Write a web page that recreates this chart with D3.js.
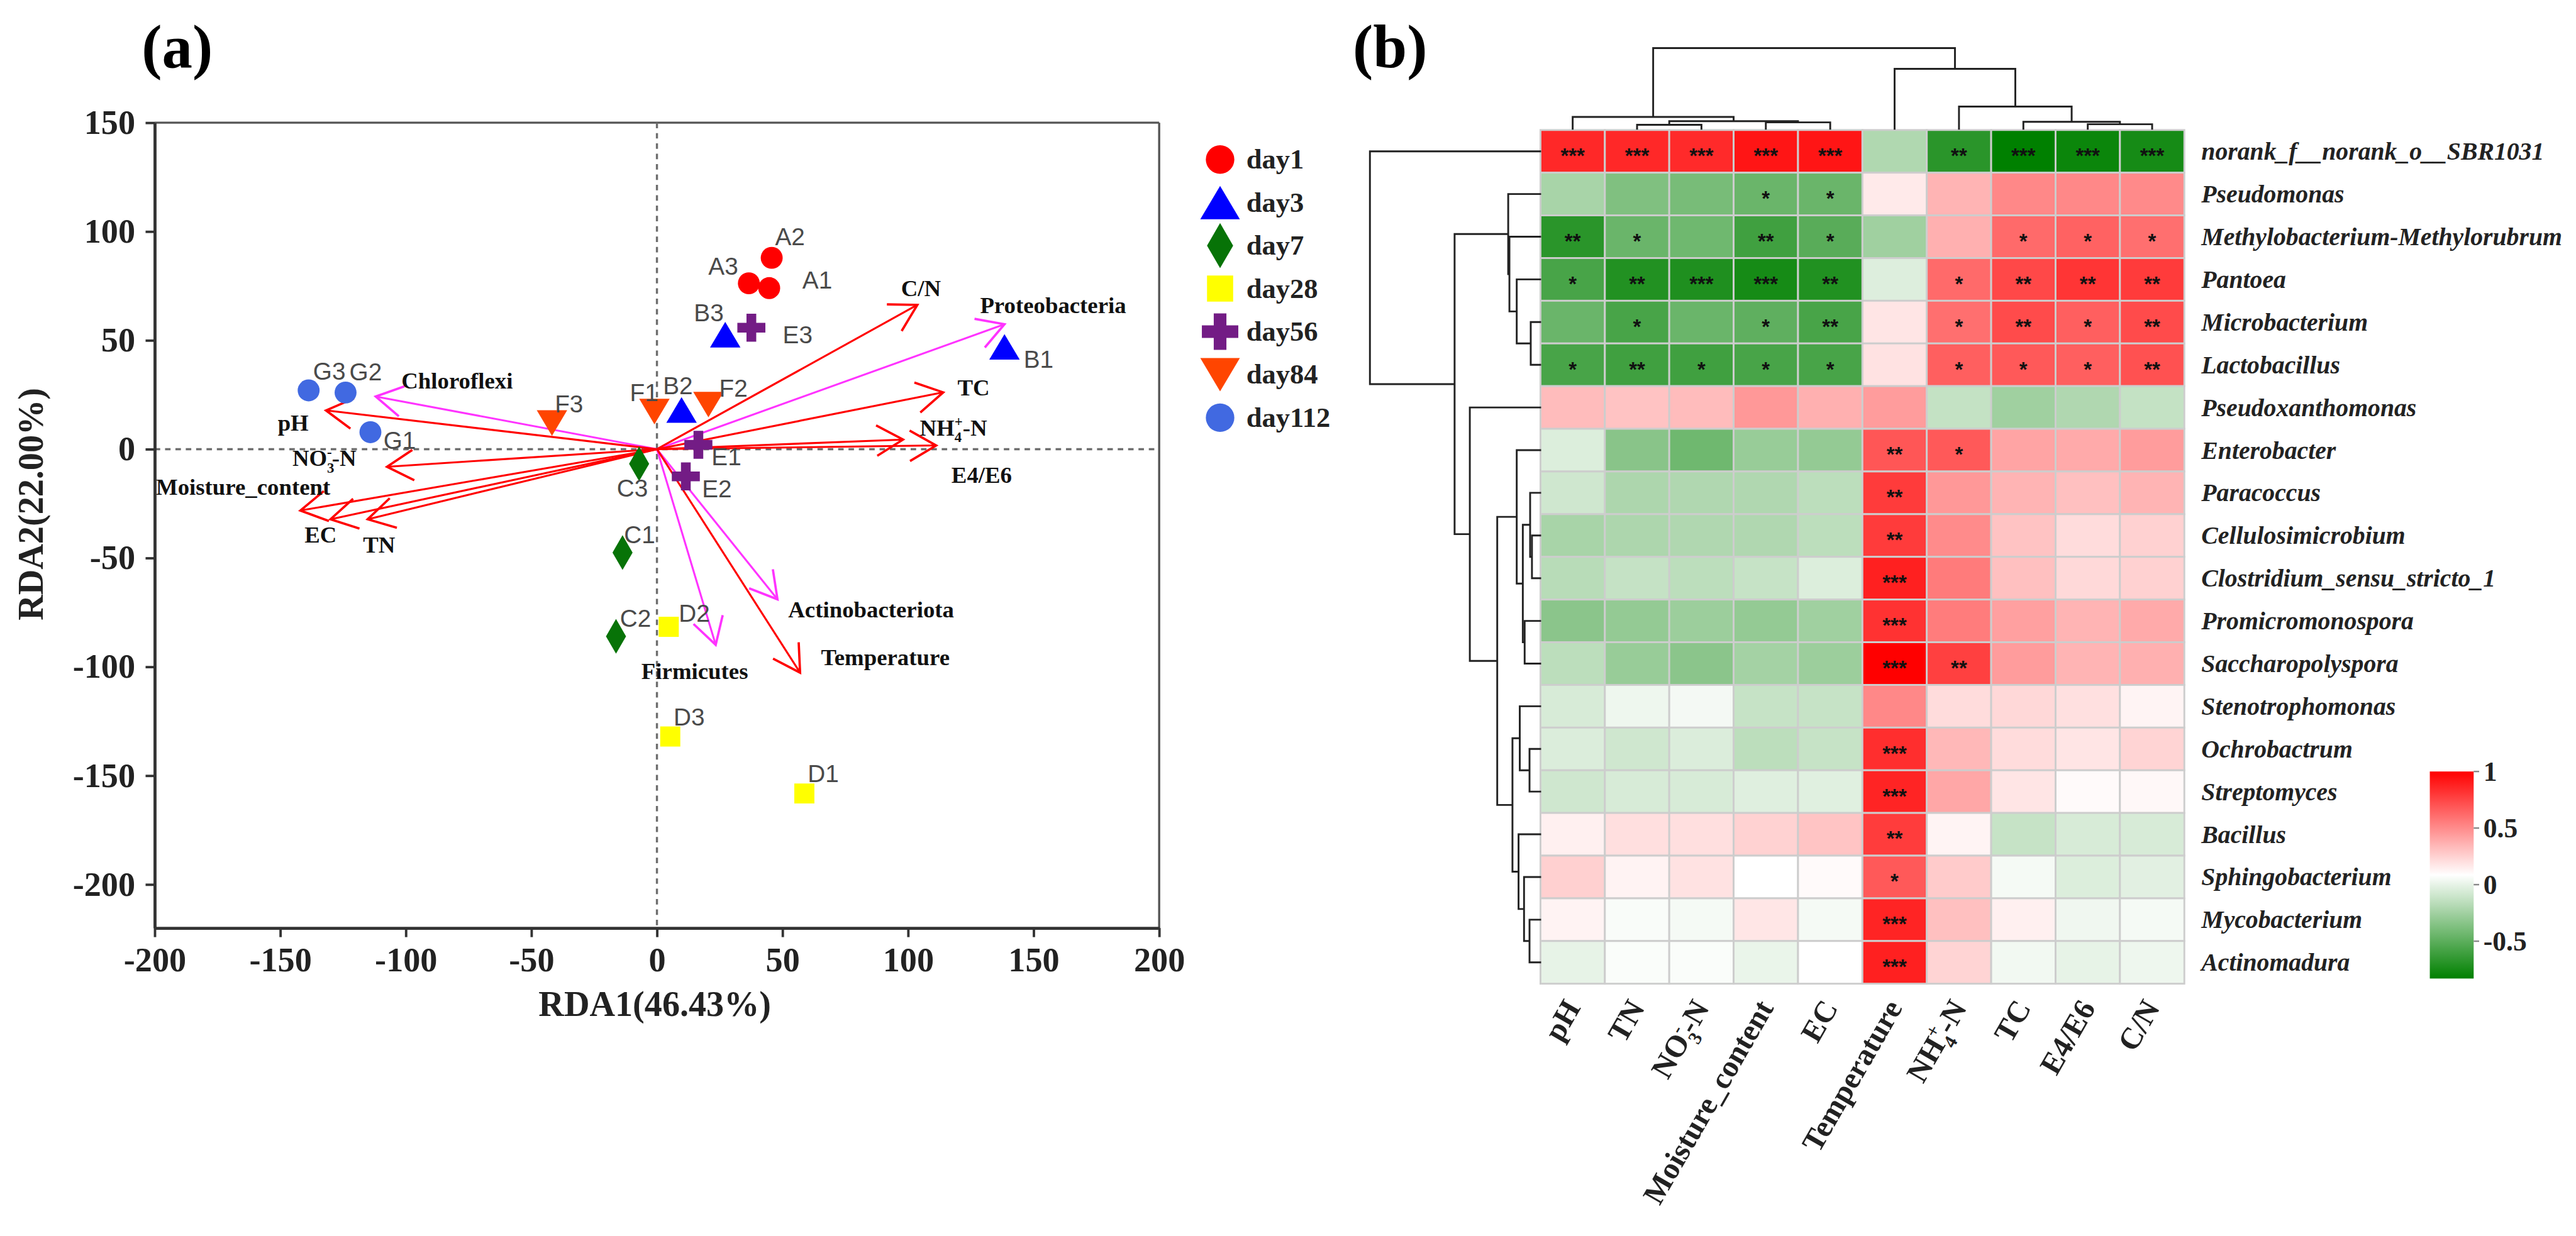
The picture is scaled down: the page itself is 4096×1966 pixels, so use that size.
<!DOCTYPE html>
<html><head><meta charset="utf-8">
<script src="https://cdn.jsdelivr.net/npm/d3@7/dist/d3.min.js"></script>
<style>html,body{margin:0;padding:0;background:#fff;}svg{display:block;}</style>
</head><body>
<svg id="chart" width="4096" height="1966"></svg>
<script>
// ================= Panel (a) data =================
const sampleNames  = ["A1","A2","A3","B1","B2","B3","C1","C2","C3","D1","D2","D3","E1","E2","E3","F1","F2","F3","G1","G2","G3"];
const sampleGroups = ["day1","day1","day1","day3","day3","day3","day7","day7","day7","day28","day28","day28","day56","day56","day56","day84","day84","day84","day112","day112","day112"];
const sampleRDA1   = [44.7, 45.7, 36.6, 138.4, 9.8, 27.2, -13.7, -16.3, -7.1, 58.7, 4.7, 5.3, 16.5, 11.5, 37.6, -1.0, 20.5, -41.8, -114.1, -124.0, -138.7];
const sampleRDA2   = [74.0, 87.9, 76.2, 47.0, 18.0, 52.6, -47.5, -86.0, -6.7, -158.2, -81.6, -132.0, 2.0, -12.5, 55.8, 17.3, 20.5, 12.0, 7.8, 26.0, 27.0];
const groupNames   = ["day1","day3","day7","day28","day56","day84","day112"];

const envNames = ["C/N","TC","NH4+-N","E4/E6","Temperature","pH","NO3--N","Moisture_content","EC","TN"];
const envRDA1  = [103.7, 114.0, 98.0, 111.2, 57.0, -131.8, -107.5, -142.0, -130.0, -115.2];
const envRDA2  = [66.3, 26.1, 4.4, 1.7, -102.7, 17.8, -8.1, -28.2, -32.2, -32.2];

const phylumNames = ["Proteobacteria","Chloroflexi","Actinobacteriota","Firmicutes"];
const phylumRDA1  = [138.4, -112.0, 48.0, 23.4];
const phylumRDA2  = [57.4, 24.2, -69.0, -89.9];

const xTickValues = [-200,-150,-100,-50,0,50,100,150,200];
const yTickValues = [-200,-150,-100,-50,0,50,100,150];
const xAxisTitle = "RDA1(46.43%)";
const yAxisTitle = "RDA2(22.00%)";

// ================= Panel (b) data =================
const genera = ["norank_f__norank_o__SBR1031","Pseudomonas","Methylobacterium-Methylorubrum","Pantoea","Microbacterium","Lactobacillus","Pseudoxanthomonas","Enterobacter","Paracoccus","Cellulosimicrobium","Clostridium_sensu_stricto_1","Promicromonospora","Saccharopolyspora","Stenotrophomonas","Ochrobactrum","Streptomyces","Bacillus","Sphingobacterium","Mycobacterium","Actinomadura"];
const heatVars = ["pH","TN","NO3--N","Moisture_content","EC","Temperature","NH4+-N","TC","E4/E6","C/N"];
const corrValues = [
  [ 0.856, 0.856, 0.85, 0.925, 0.925,-0.198,-0.68,-0.83,-0.79,-0.75],
  [-0.227,-0.37,-0.40,-0.45,-0.45, 0.16, 0.354, 0.512, 0.512, 0.505],
  [-0.68,-0.45,-0.43,-0.60,-0.51,-0.256, 0.368, 0.62, 0.65, 0.60],
  [-0.572,-0.708,-0.72,-0.75,-0.71,-0.037, 0.62, 0.74, 0.81, 0.79],
  [-0.45,-0.57,-0.45,-0.49,-0.57, 0.18, 0.60, 0.73, 0.66, 0.73],
  [-0.57,-0.60,-0.60,-0.57,-0.57, 0.19, 0.66, 0.68, 0.66, 0.71],
  [ 0.325, 0.30, 0.325, 0.455, 0.37, 0.44,-0.127,-0.256,-0.20,-0.127],
  [-0.04,-0.34,-0.43,-0.285,-0.30, 0.69, 0.68, 0.41, 0.39, 0.44],
  [-0.087,-0.21,-0.20,-0.20,-0.155, 0.79, 0.455, 0.354, 0.31, 0.354],
  [-0.227,-0.21,-0.20,-0.20,-0.155, 0.79, 0.50, 0.30, 0.21, 0.25],
  [-0.17,-0.123,-0.155,-0.12,-0.04, 0.885, 0.56, 0.31, 0.22, 0.25],
  [-0.33,-0.30,-0.27,-0.30,-0.256, 0.82, 0.555, 0.426, 0.354, 0.39],
  [-0.155,-0.285,-0.33,-0.24,-0.27, 1.00, 0.77, 0.44, 0.354, 0.37],
  [-0.059, 0.024, 0.045,-0.12,-0.12, 0.512, 0.21, 0.225, 0.196, 0.125],
  [-0.044,-0.087,-0.044,-0.155,-0.12, 0.835, 0.34, 0.21, 0.18, 0.24],
  [-0.087,-0.059,-0.059,-0.03,-0.026, 0.87, 0.40, 0.18, 0.103, 0.11],
  [ 0.139, 0.20, 0.20, 0.246, 0.297, 0.785, 0.125,-0.12,-0.06,-0.06],
  [ 0.254, 0.128, 0.19, 0.085, 0.103, 0.68, 0.27, 0.05,-0.04,-0.02],
  [ 0.128, 0.063, 0.05, 0.175, 0.05, 0.87, 0.31, 0.139, 0.03, 0.05],
  [ 0.00, 0.067, 0.067, 0.01, 0.085, 0.885, 0.24, 0.04, 0.00, 0.024]
];
const corrStars = [
  ["***","***","***","***","***","","**","***","***","***"],
  ["","","","*","*","","","","",""],
  ["**","*","","**","*","","","*","*","*"],
  ["*","**","***","***","**","","*","**","**","**"],
  ["","*","","*","**","","*","**","*","**"],
  ["*","**","*","*","*","","*","*","*","**"],
  ["","","","","","","","","",""],
  ["","","","","","**","*","","",""],
  ["","","","","","**","","","",""],
  ["","","","","","**","","","",""],
  ["","","","","","***","","","",""],
  ["","","","","","***","","","",""],
  ["","","","","","***","**","","",""],
  ["","","","","","","","","",""],
  ["","","","","","***","","","",""],
  ["","","","","","***","","","",""],
  ["","","","","","**","","","",""],
  ["","","","","","*","","","",""],
  ["","","","","","***","","","",""],
  ["","","","","","***","","","",""]
];
// dendrogram merges: [childA, childB, height]; numbers = leaf index, "mK" = merge K
const colMerges = [
  [1,2,0.06],[3,4,0.09],["m0","m1",0.105],[0,"m2",0.157],
  [8,9,0.067],[7,"m4",0.097],[6,"m5",0.284],[5,"m6",0.746],["m3","m7",1.0]
];
const rowMerges = [
  [4,5,17],[3,"m0",40],[2,"m1",52],[1,"m2",54],
  [9,10,15],[8,"m4",18],[11,12,27],["m5","m6",30],[7,"m7",40],
  [14,15,19],[13,"m9",35],[18,19,19],[17,"m11",28],[16,"m12",37],["m10","m13",47],
  ["m8","m14",72],[6,"m15",117],["m3","m16",142],[0,"m17",281]
];
const legendTickValues = [1,0.5,0,-0.5];
const colorDomain = [-0.83, 0.085, 1];
const colorRange = ["#008000","#ffffff","#ff0000"];

// ================= Styles / layout =================
const SERIF = "'Liberation Serif','Times New Roman',Times,serif";
const SANS = "'Liberation Sans',Arial,Helvetica,sans-serif";
const groupStyle = {
  day1:{shape:"circle",color:"#ff0000"}, day3:{shape:"triUp",color:"#0000ff"},
  day7:{shape:"diamond",color:"#077307"}, day28:{shape:"square",color:"#ffff00"},
  day56:{shape:"plus",color:"#731c85"}, day84:{shape:"triDown",color:"#ff4500"},
  day112:{shape:"circle",color:"#4169e1"}
};
const sampleLabelOffset = {
  A1:[79,-13],A2:[30,-35],A3:[-42,-28],B1:[56,20],B2:[-6,-40],B3:[-27,-36],
  C1:[28,-29],C2:[32,-30],C3:[-11,40],D1:[31,-33],D2:[42,-22],D3:[31,-32],
  E1:[46,20],E2:[51,20],E3:[76,12],F1:[-17,-31],F2:[41,-27],F3:[28,-31],
  G1:[48,13],G2:[33,-34],G3:[34,-31]
};
const vecLabelPos = {
  "C/N":[1512,474,"middle"],"TC":[1572,637,"start"],"NH4+-N":[1510,703,"start"],
  "E4/E6":[1562,780,"start"],"Temperature":[1348,1080,"start"],"pH":[456,695,"start"],
  "NO3--N":[480,753,"start"],"Moisture_content":[256,800,"start"],"EC":[500,879,"start"],
  "TN":[596,895,"start"],"Proteobacteria":[1609,502,"start"],"Chloroflexi":[659,626,"start"],
  "Actinobacteriota":[1294,1001,"start"],"Firmicutes":[1053,1103,"start"]
};
const richParts = {
  "NH4+-N":[{t:"NH"},{t:"4",sub:1},{t:"+",sup:1,back:1},{t:"-N"}],
  "NO3--N":[{t:"NO"},{t:"3",sub:1},{t:"-",sup:1,back:1},{t:"-N"}]
};
function addRich(sel, name, fs){
  const parts = richParts[name] || [{t:name}];
  let cur = 0;
  parts.forEach(p=>{
    const off = p.sub ? fs*0.28 : (p.sup ? -fs*0.40 : 0);
    const ts = sel.append("tspan").attr("dy", off-cur).text(p.t);
    if(p.sub||p.sup) ts.attr("font-size", fs*0.62);
    if(p.back) ts.attr("dx", -fs*0.62*0.5);
    cur = off;
  });
  return sel;
}

const S = 4096/4229;
const svg = d3.select("#chart");
const g = svg.append("g").attr("transform",`scale(${S})`);

// ================= Panel (a) =================
const x = d3.scaleLinear().domain([-200,200]).range([254,1903]);
const y = d3.scaleLinear().domain([-220,150]).range([1524,201.5]);

g.append("text").attr("x",291).attr("y",110).attr("text-anchor","middle")
  .attr("font-family",SERIF).attr("font-weight","bold").attr("font-size",100).text("(a)");

// frame
g.append("line").attr("x1",x(-200)).attr("x2",x(200)).attr("y1",y(150)).attr("y2",y(150)).attr("stroke","#555").attr("stroke-width",3.5);
g.append("line").attr("x1",x(200)).attr("x2",x(200)).attr("y1",y(150)).attr("y2",y(-220)).attr("stroke","#555").attr("stroke-width",3.5);
// zero lines
g.append("line").attr("x1",x(0)).attr("x2",x(0)).attr("y1",y(150)).attr("y2",y(-220))
  .attr("stroke","#6e6e6e").attr("stroke-width",3.5).attr("stroke-dasharray","9,8");
g.append("line").attr("x1",x(-200)).attr("x2",x(200)).attr("y1",y(0)).attr("y2",y(0))
  .attr("stroke","#6e6e6e").attr("stroke-width",3.5).attr("stroke-dasharray","9,8");

const axB = g.append("g").attr("transform",`translate(0,${y(-220)})`)
  .call(d3.axisBottom(x).tickValues(xTickValues).tickFormat(d=>String(d)).tickSize(15).tickSizeOuter(0).tickPadding(16));
const axL = g.append("g").attr("transform",`translate(${x(-200)},0)`)
  .call(d3.axisLeft(y).tickValues(yTickValues).tickFormat(d=>String(d)).tickSize(15).tickSizeOuter(0).tickPadding(17));
[axB,axL].forEach(a=>{
  a.attr("font-family",SERIF).attr("font-size",56).attr("font-weight","bold");
  a.select(".domain").attr("stroke","#333").attr("stroke-width",5);
  a.selectAll(".tick line").attr("stroke","#333").attr("stroke-width",4);
  a.selectAll(".tick text").attr("fill","#222");
});
g.append("text").attr("x",1075).attr("y",1669).attr("text-anchor","middle")
  .attr("font-family",SERIF).attr("font-weight","bold").attr("font-size",58).attr("fill","#222").text(xAxisTitle);
g.append("text").attr("transform","translate(70,828) rotate(-90)").attr("text-anchor","middle")
  .attr("font-family",SERIF).attr("font-weight","bold").attr("font-size",58).attr("fill","#222").text(yAxisTitle);

// arrows
function drawArrow(vx, vy, color){
  const x1=x(0), y1=y(0), x2=x(vx), y2=y(vy);
  g.append("line").attr("x1",x1).attr("y1",y1).attr("x2",x2).attr("y2",y2)
    .attr("stroke",color).attr("stroke-width",3.2);
  const ang=Math.atan2(y2-y1,x2-x1), L=50, a=Math.PI/6;
  const p1=[x2+L*Math.cos(ang+Math.PI-a), y2+L*Math.sin(ang+Math.PI-a)];
  const p2=[x2+L*Math.cos(ang+Math.PI+a), y2+L*Math.sin(ang+Math.PI+a)];
  g.append("path").attr("d",`M${p1[0]},${p1[1]}L${x2},${y2}L${p2[0]},${p2[1]}`)
    .attr("fill","none").attr("stroke",color).attr("stroke-width",3.8).attr("stroke-linejoin","miter");
}
phylumNames.forEach((n,i)=>drawArrow(phylumRDA1[i],phylumRDA2[i],"#ff33ff"));
envNames.forEach((n,i)=>drawArrow(envRDA1[i],envRDA2[i],"#ff0000"));

// vector labels
envNames.concat(phylumNames).forEach(n=>{
  const p = vecLabelPos[n];
  const t = g.append("text").attr("x",p[0]).attr("y",p[1]+12.5).attr("text-anchor",p[2])
    .attr("font-family",SERIF).attr("font-weight","bold").attr("font-size",38).attr("fill","#111");
  addRich(t, n, 38);
});

// symbols
function shapePath(shape,k){
  const p=d3.path();
  if(shape==="circle"){ const r=18*k; p.arc(0,0,r,0,2*Math.PI); }
  else if(shape==="triUp"){ const w=50*k,h=42*k; p.moveTo(0,-h/2);p.lineTo(w/2,h/2);p.lineTo(-w/2,h/2);p.closePath(); }
  else if(shape==="triDown"){ const w=50*k,h=42*k; p.moveTo(0,h/2);p.lineTo(w/2,-h/2);p.lineTo(-w/2,-h/2);p.closePath(); }
  else if(shape==="diamond"){ const w=33*k,h=57*k; p.moveTo(0,-h/2);p.lineTo(w/2,0);p.lineTo(0,h/2);p.lineTo(-w/2,0);p.closePath(); }
  else if(shape==="square"){ const s=33*k; p.rect(-s/2,-s/2,s,s); }
  else if(shape==="plus"){ const s=46*k,t=16*k,a=s/2,b=t/2;
    p.moveTo(-b,-a);p.lineTo(b,-a);p.lineTo(b,-b);p.lineTo(a,-b);p.lineTo(a,b);p.lineTo(b,b);
    p.lineTo(b,a);p.lineTo(-b,a);p.lineTo(-b,b);p.lineTo(-a,b);p.lineTo(-a,-b);p.lineTo(-b,-b);p.closePath(); }
  return p.toString();
}
sampleNames.forEach((n,i)=>{
  const st=groupStyle[sampleGroups[i]];
  g.append("path").attr("d",shapePath(st.shape,1))
    .attr("transform",`translate(${x(sampleRDA1[i])},${y(sampleRDA2[i])})`).attr("fill",st.color);
});
sampleNames.forEach((n,i)=>{
  const o=sampleLabelOffset[n];
  g.append("text").attr("x",x(sampleRDA1[i])+o[0]).attr("y",y(sampleRDA2[i])+o[1]+14)
    .attr("text-anchor","middle").attr("font-family",SANS).attr("font-size",40).attr("fill","#4a4a4a").text(n);
});

// legend (a)
const lgY = d3.scalePoint().domain(groupNames).range([262,686]);
groupNames.forEach(gn=>{
  const st=groupStyle[gn];
  g.append("path").attr("d",shapePath(st.shape,1.3)).attr("transform",`translate(2003,${lgY(gn)})`).attr("fill",st.color);
  g.append("text").attr("x",2046).attr("y",lgY(gn)+15).attr("font-family",SERIF).attr("font-weight","bold")
    .attr("font-size",46).attr("fill","#222").text(gn);
});

// ================= Panel (b) =================
g.append("text").attr("x",2282).attr("y",110).attr("text-anchor","middle")
  .attr("font-family",SERIF).attr("font-weight","bold").attr("font-size",100).text("(b)");

const hx = d3.scaleBand().domain(heatVars).range([2529,3586]);
const hy = d3.scaleBand().domain(genera).range([213.5,1615.5]);
const color = d3.scaleLinear().domain(colorDomain).range(colorRange);

const cells=[];
genera.forEach((gname,ri)=>heatVars.forEach((v,ci)=>cells.push({g:gname,v:v,val:corrValues[ri][ci],s:corrStars[ri][ci]})));
g.append("g").selectAll("rect").data(cells).join("rect")
  .attr("x",d=>hx(d.v)).attr("y",d=>hy(d.g)).attr("width",hx.bandwidth()).attr("height",hy.bandwidth())
  .attr("fill",d=>color(d.val)).attr("stroke","#cdcdcd").attr("stroke-width",3);
g.append("g").selectAll("text").data(cells.filter(d=>d.s)).join("text")
  .attr("x",d=>hx(d.v)+hx.bandwidth()/2).attr("y",d=>hy(d.g)+hy.bandwidth()/2+19)
  .attr("text-anchor","middle").attr("font-family",SANS).attr("font-weight","bold").attr("font-size",34)
  .attr("fill","#111").text(d=>d.s);

// row labels
genera.forEach(gn=>{
  g.append("text").attr("x",3614).attr("y",hy(gn)+hy.bandwidth()/2+14)
    .attr("font-family",SERIF).attr("font-style","italic").attr("font-weight","bold").attr("font-size",41)
    .attr("fill","#222").text(gn);
});
// column labels
heatVars.forEach(v=>{
  const cx=hx(v)+hx.bandwidth()/2+14, cy=1655;
  const t=g.append("text").attr("transform",`translate(${cx},${cy}) rotate(-60)`).attr("text-anchor","end")
    .attr("font-family",SERIF).attr("font-weight","bold").attr("font-size",50).attr("fill","#222");
  addRich(t, v, 50);
});

// dendrograms
function dendroSegments(merges, leafPos){
  const pos=[], ht=[], segs=[];
  const get=r=> typeof r==="number" ? {p:leafPos(r),h:0} : {p:pos[+r.slice(1)],h:ht[+r.slice(1)]};
  merges.forEach((m,k)=>{
    const a=get(m[0]), b=get(m[1]);
    pos[k]=(a.p+b.p)/2; ht[k]=m[2];
    segs.push([[a.p,a.h],[a.p,m[2]],[b.p,m[2]],[b.p,b.h]]);
  });
  return segs;
}
const colH = d3.scaleLinear().domain([0,1]).range([213,79]);
const colSegs = dendroSegments(colMerges, i=>hx(heatVars[i])+hx.bandwidth()/2);
g.append("g").selectAll("path").data(colSegs).join("path")
  .attr("d",s=>d3.line()(s.map(q=>[q[0],colH(q[1])])))
  .attr("fill","none").attr("stroke","#222").attr("stroke-width",3);
const rowH = d3.scaleLinear().domain([0,281]).range([2530,2249]);
const rowSegs = dendroSegments(rowMerges, i=>hy(genera[i])+hy.bandwidth()/2);
g.append("g").selectAll("path").data(rowSegs).join("path")
  .attr("d",s=>d3.line()(s.map(q=>[rowH(q[1]),q[0]])))
  .attr("fill","none").attr("stroke","#222").attr("stroke-width",3);

// color legend
const ly = d3.scaleLinear().domain([1,colorDomain[0]]).range([1267,1607]);
const defs = svg.append("defs");
const grad = defs.append("linearGradient").attr("id","cgrad").attr("x1",0).attr("y1",0).attr("x2",0).attr("y2",1);
d3.range(0,1.0001,0.05).forEach(f=>{
  const v = 1 + f*(colorDomain[0]-1);
  grad.append("stop").attr("offset",f).attr("stop-color",color(v));
});
g.append("rect").attr("x",3989).attr("y",ly(1)).attr("width",72).attr("height",ly(colorDomain[0])-ly(1)).attr("fill","url(#cgrad)");
legendTickValues.forEach(v=>{
  g.append("line").attr("x1",4061).attr("x2",4070).attr("y1",ly(v)).attr("y2",ly(v)).attr("stroke","#888").attr("stroke-width",2.5);
  g.append("text").attr("x",4077).attr("y",ly(v)+15).attr("font-family",SERIF).attr("font-weight","bold")
    .attr("font-size",45).attr("fill","#222").text(String(v));
});
</script>
</body></html>
